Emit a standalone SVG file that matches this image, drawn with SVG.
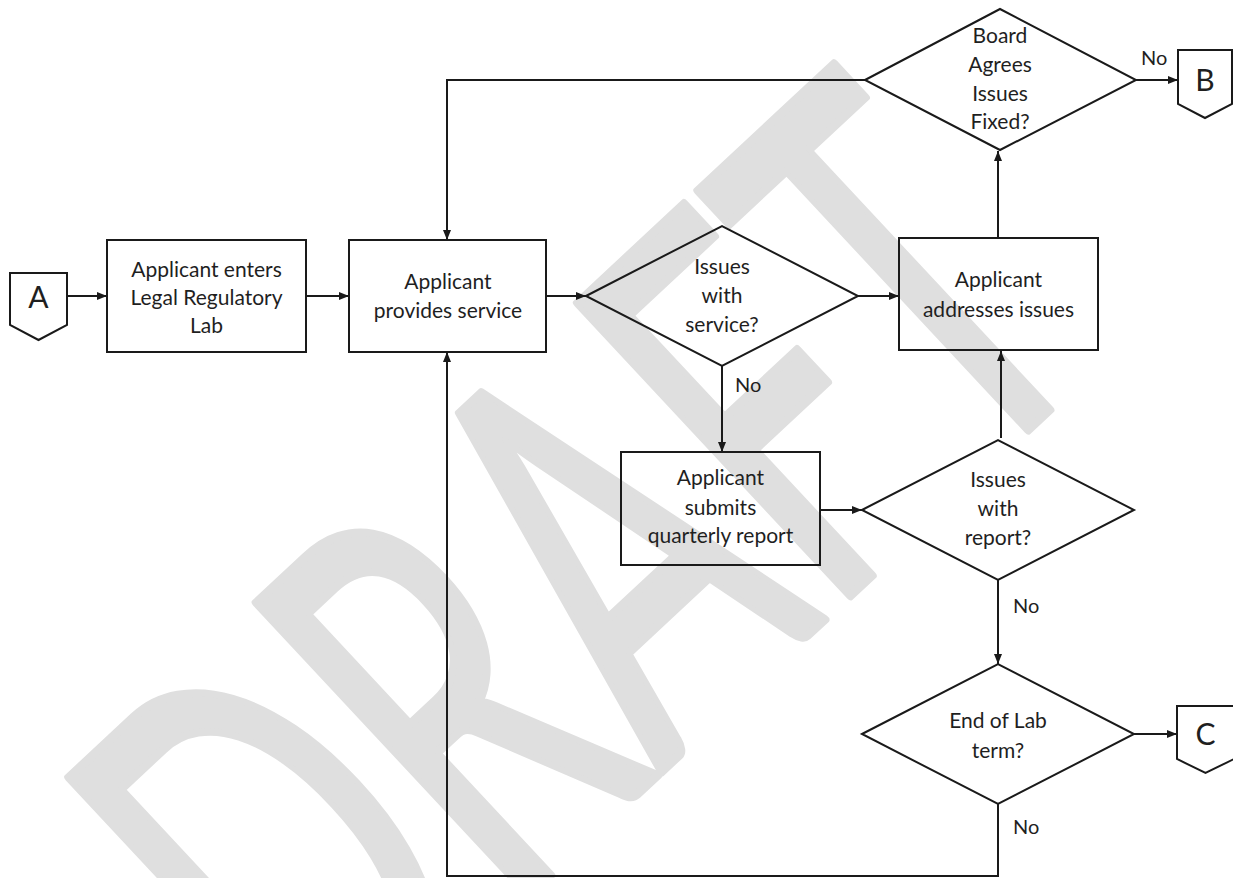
<svg xmlns="http://www.w3.org/2000/svg" width="1233" height="878" viewBox="0 0 1233 878">
<style>
.wm{font-family:Lato,"Open Sans",sans-serif;font-size:558px;fill:#dfdfdf;stroke:#dfdfdf;stroke-width:9;stroke-linejoin:round}
.shape{fill:none;stroke:#1a1a1a;stroke-width:2}
.ln{fill:none;stroke:#1a1a1a;stroke-width:2}
.t{font-family:Lato,"Open Sans",sans-serif;font-size:21px;fill:#1f1f1f;text-anchor:middle}
.no{font-family:Lato,"Open Sans",sans-serif;font-size:20px;fill:#1f1f1f}
.big{font-family:Lato,"Open Sans",sans-serif;font-size:30px;fill:#1f1f1f;text-anchor:middle}
</style>
<defs>
<marker id="arr" markerUnits="userSpaceOnUse" markerWidth="11" markerHeight="9" refX="10" refY="4" orient="auto">
<path d="M0,0 L10,4 L0,8 z" fill="#1a1a1a"/>
</marker>
</defs>
<rect width="1233" height="878" fill="#ffffff"/>
<g id="watermark">
<text class="wm" transform="translate(318,1092) rotate(-43)" textLength="1085" lengthAdjust="spacingAndGlyphs">DRAFT</text>
</g>
<g id="connectors">
<path class="ln" d="M67,296 H107" marker-end="url(#arr)"/>
<path class="ln" d="M306,296 H349" marker-end="url(#arr)"/>
<path class="ln" d="M546,296 H586" marker-end="url(#arr)"/>
<path class="ln" d="M858,296 H899" marker-end="url(#arr)"/>
<path class="ln" d="M722,366 V452" marker-end="url(#arr)"/>
<path class="ln" d="M820,510 H862" marker-end="url(#arr)"/>
<path class="ln" d="M1001,438 V351" marker-end="url(#arr)"/>
<path class="ln" d="M998,238 V151" marker-end="url(#arr)"/>
<path class="ln" d="M1136,80 H1178" marker-end="url(#arr)"/>
<path class="ln" d="M865,80 H447 V240" marker-end="url(#arr)"/>
<path class="ln" d="M998,580 V664" marker-end="url(#arr)"/>
<path class="ln" d="M1134,734 H1177" marker-end="url(#arr)"/>
<path class="ln" d="M998,804 V876 H447 V352" marker-end="url(#arr)"/>
<text class="no" x="735" y="392">No</text>
<text class="no" x="1013" y="613">No</text>
<text class="no" x="1013" y="834">No</text>
<text class="no" x="1141" y="65">No</text>
</g>
<g id="A">
<path class="shape" d="M10,273 H67 V325 L38.5,340 L10,325 Z"/>
<text class="big" x="38.5" y="308">A</text>
</g>
<g id="enter">
<rect class="shape" x="107" y="240" width="199" height="112"/>
<text class="t" x="206.5" y="277">Applicant enters</text>
<text class="t" x="206.5" y="305">Legal Regulatory</text>
<text class="t" x="206.5" y="333">Lab</text>
</g>
<g id="provide">
<rect class="shape" x="349" y="240" width="197" height="112"/>
<text class="t" x="448" y="289">Applicant</text>
<text class="t" x="448" y="318">provides service</text>
</g>
<g id="issuesService">
<polygon class="shape" points="586,296 722,226 858,296 722,366"/>
<text class="t" x="722" y="274">Issues</text>
<text class="t" x="722" y="303">with</text>
<text class="t" x="722" y="332">service?</text>
</g>
<g id="addresses">
<rect class="shape" x="899" y="238" width="199" height="112"/>
<text class="t" x="998.5" y="287">Applicant</text>
<text class="t" x="998.5" y="317">addresses issues</text>
</g>
<g id="board">
<polygon class="shape" points="865,80 1000,9 1136,80 1000,150"/>
<text class="t" x="1000" y="43">Board</text>
<text class="t" x="1000" y="72">Agrees</text>
<text class="t" x="1000" y="101">Issues</text>
<text class="t" x="1000" y="129">Fixed?</text>
</g>
<g id="B">
<path class="shape" d="M1178,50 H1232 V104 L1205,118 L1178,104 Z"/>
<text class="big" x="1205" y="91">B</text>
</g>
<g id="submit">
<rect class="shape" x="621" y="452" width="199" height="113"/>
<text class="t" x="720.5" y="485">Applicant</text>
<text class="t" x="720.5" y="515">submits</text>
<text class="t" x="720.5" y="543">quarterly report</text>
</g>
<g id="issuesReport">
<polygon class="shape" points="862,510 998,440 1134,510 998,580"/>
<text class="t" x="998" y="487">Issues</text>
<text class="t" x="998" y="516">with</text>
<text class="t" x="998" y="545">report?</text>
</g>
<g id="endTerm">
<polygon class="shape" points="862,734 998,664 1134,734 998,804"/>
<text class="t" x="998" y="728">End of Lab</text>
<text class="t" x="998" y="758">term?</text>
</g>
<g id="C">
<path class="shape" d="M1177,706 H1234 V759 L1205.5,773 L1177,759 Z"/>
<text class="big" x="1205.5" y="745">C</text>
</g>
</svg>
